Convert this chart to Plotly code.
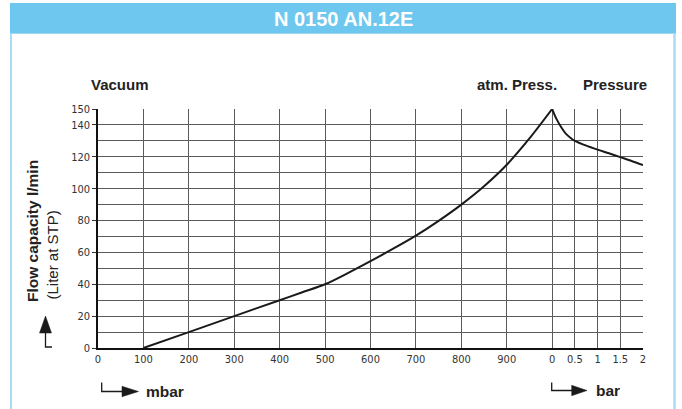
import plotly.graph_objects as go

# ---------------- data ----------------
vacuum_mbar = [100, 200, 300, 400, 450, 500, 550, 600, 650, 700, 750, 800, 850, 900, 950, 1000]
vacuum_flow = [0, 10, 20, 30, 35, 40, 47, 54.5, 62.3, 70.5, 79.8, 90, 101.5, 115, 131.5, 150]

pressure_bar = [0, 0.05, 0.1, 0.2, 0.3, 0.4, 0.5, 0.75, 1.0, 1.25, 1.5, 1.75, 2.0]
pressure_flow = [150, 146.5, 143.5, 138.5, 134.5, 132, 130, 127, 124.5, 122.2, 119.8, 117.4, 114.8]

x_tick_labels = ["0", "100", "200", "300", "400", "500", "600", "700", "800", "900",
                 "0", "0.5", "1", "1.5", "2"]
y_tick_values = [0, 20, 40, 60, 80, 100, 120, 140, 150]

# combined axis: vacuum in 100-mbar units (0..10), pressure 1 bar = 1 unit (10..12)
def vac_pos(m):
    return m / 100.0

def pres_pos(b):
    return 10 + b

x_tick_pos = [vac_pos(m) for m in range(0, 1000, 100)] + [pres_pos(b) for b in (0, 0.5, 1, 1.5, 2)]

# ---------------- layout geometry ----------------
W, H = 682, 409
ML, MR, MT, MB = 98, 39, 109, 61
PW, PH = W - ML - MR, H - MT - MB

def px(x):
    return (x - ML) / PW

def py(y):
    return (H - MB - y) / PH

TICKFONT = "Liberation Sans Narrow, DejaVu Sans Condensed, Arial Narrow, Arial, sans-serif"
BOLD = "Liberation Sans, Arial, sans-serif"
DARK = "#222222"
GRID = "#5a5a5a"

fig = go.Figure()
fig.add_trace(go.Scatter(
    x=[vac_pos(m) for m in vacuum_mbar], y=vacuum_flow, mode="lines",
    line=dict(color="#1a1a1a", width=2, shape="spline", smoothing=0.8),
    showlegend=False, hoverinfo="skip"))
fig.add_trace(go.Scatter(
    x=[pres_pos(b) for b in pressure_bar], y=pressure_flow, mode="lines",
    line=dict(color="#1a1a1a", width=2, shape="spline", smoothing=0.8),
    showlegend=False, hoverinfo="skip"))

fig.update_xaxes(
    range=[0, 12], tickmode="array", tickvals=x_tick_pos, ticktext=x_tick_labels,
    showgrid=True, gridcolor=GRID, gridwidth=1, ticks="",
    showline=True, linecolor="#111", linewidth=1.5, zeroline=False,
    tickfont=dict(family=TICKFONT, size=11, color="#333"),
    fixedrange=True)
fig.update_yaxes(
    range=[0, 150], tickmode="array", tickvals=y_tick_values,
    ticktext=[str(v) for v in y_tick_values],
    showgrid=True, gridcolor=GRID, gridwidth=1,
    ticks="outside", ticklen=4, tickcolor="#333",
    minor=dict(tick0=0, dtick=10, showgrid=True, gridcolor=GRID, gridwidth=1, ticks=""),
    showline=True, linecolor="#111", linewidth=1.5, zeroline=False,
    tickfont=dict(family=TICKFONT, size=11, color="#333"),
    fixedrange=True)

shapes = []
BLUE = "#6EC7EF"
LIGHT = "#A9DCF3"
# header bar
shapes.append(dict(type="rect", xref="paper", yref="paper",
                   x0=px(10), x1=px(676), y0=py(33), y1=py(3),
                   fillcolor=BLUE, line=dict(width=0), layer="below"))
# frame borders
shapes.append(dict(type="line", xref="paper", yref="paper",
                   x0=px(11), x1=px(11), y0=py(33), y1=py(409),
                   line=dict(color=LIGHT, width=2)))
shapes.append(dict(type="line", xref="paper", yref="paper",
                   x0=px(674.5), x1=px(674.5), y0=py(33), y1=py(409),
                   line=dict(color=LIGHT, width=2.5)))
shapes.append(dict(type="line", xref="paper", yref="paper",
                   x0=px(10), x1=px(676), y0=py(33.5), y1=py(33.5),
                   line=dict(color="#9fd8f2", width=1)))

ARROW = "#1a1a1a"

def path(points):
    return "M " + " L ".join(f"{px(a)},{py(b)}" for a, b in points) + " Z"

# y-axis arrow (L shape with up arrow)
shapes.append(dict(type="path", xref="paper", yref="paper",
                   path="M {},{} L {},{} L {},{}".format(px(52), py(347), px(45.5), py(347), px(45.5), py(331)),
                   line=dict(color=ARROW, width=1.3)))
shapes.append(dict(type="path", xref="paper", yref="paper",
                   path=path([(39.5, 333), (45.5, 316), (51.5, 333)]),
                   fillcolor=ARROW, line=dict(color=ARROW, width=0.5)))

# mbar arrow
shapes.append(dict(type="path", xref="paper", yref="paper",
                   path="M {},{} L {},{} L {},{}".format(px(101.7), py(382.5), px(101.7), py(391.5), px(123), py(391.5)),
                   line=dict(color=ARROW, width=1.3)))
shapes.append(dict(type="path", xref="paper", yref="paper",
                   path=path([(122, 386.3), (138.5, 391.5), (122, 396.7)]),
                   fillcolor=ARROW, line=dict(color=ARROW, width=0.5)))
# bar arrow
shapes.append(dict(type="path", xref="paper", yref="paper",
                   path="M {},{} L {},{} L {},{}".format(px(551.7), py(382.5), px(551.7), py(390.5), px(572.5), py(390.5)),
                   line=dict(color=ARROW, width=1.3)))
shapes.append(dict(type="path", xref="paper", yref="paper",
                   path=path([(571.7, 385.3), (587, 390.5), (571.7, 395.7)]),
                   fillcolor=ARROW, line=dict(color=ARROW, width=0.5)))

annotations = [
    dict(text="<b>N 0150 AN.12E</b>", x=px(343), y=py(18.5), xanchor="center", yanchor="middle",
         font=dict(family=BOLD, size=20, color="white")),
    dict(text="<b>Vacuum</b>", x=px(89), y=py(84), xanchor="left", yanchor="middle",
         font=dict(family=BOLD, size=15, color=DARK)),
    dict(text="<b>atm. Press.</b>", x=px(559), y=py(84), xanchor="right", yanchor="middle",
         font=dict(family=BOLD, size=15, color=DARK)),
    dict(text="<b>Pressure</b>", x=px(581), y=py(84), xanchor="left", yanchor="middle",
         font=dict(family=BOLD, size=15, color=DARK)),
    dict(text="<b>Flow capacity l/min</b>", x=px(32), y=py(231), xanchor="center", yanchor="middle",
         textangle=-90, font=dict(family=BOLD, size=15.5, color=DARK)),
    dict(text="(Liter at STP)", x=px(52.5), y=py(255), xanchor="center", yanchor="middle",
         textangle=-90, font=dict(family=BOLD, size=15, color=DARK)),
    dict(text="<b>mbar</b>", x=px(143.5), y=py(391), xanchor="left", yanchor="middle",
         font=dict(family=BOLD, size=15.5, color=DARK)),
    dict(text="<b>bar</b>", x=px(593.5), y=py(390), xanchor="left", yanchor="middle",
         font=dict(family=BOLD, size=15.5, color=DARK)),
]
for a in annotations:
    a.update(xref="paper", yref="paper", showarrow=False)

fig.update_layout(
    width=W, height=H,
    margin=dict(l=ML, r=MR, t=MT, b=MB, pad=0),
    paper_bgcolor="white", plot_bgcolor="white",
    shapes=shapes, annotations=annotations,
    showlegend=False,
)

fig.write_html("out.html", config={"displayModeBar": False})
